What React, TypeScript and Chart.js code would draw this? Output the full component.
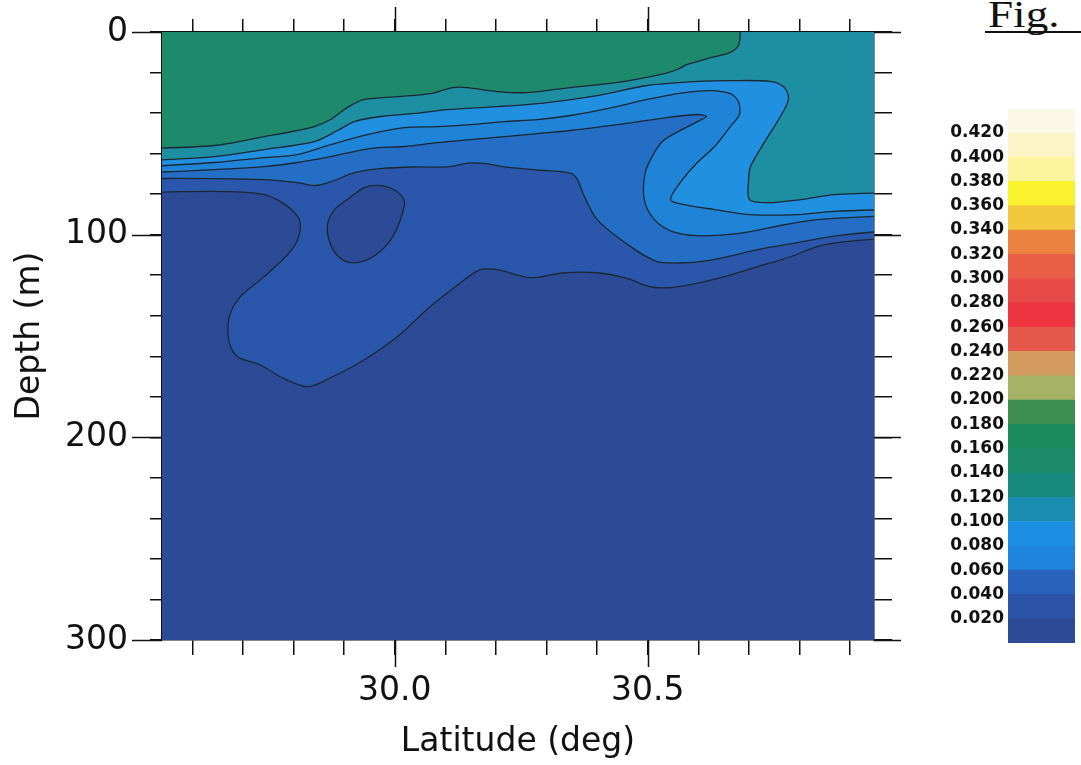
import React, { useEffect, useRef } from 'react';
import { Chart, registerables } from 'chart.js';

Chart.register(...registerables);

type Pt = [number, number];

// ---------- axes ----------
const LAT_MIN = 29.54;
const LAT_MAX = 30.947;
const DEPTH_MIN = 0;
const DEPTH_MAX = 300;

const latTicks = [29.6, 29.7, 29.8, 29.9, 30.0, 30.1, 30.2, 30.3, 30.4, 30.5, 30.6, 30.7, 30.8, 30.9];
const latLabelTicks = [30.0, 30.5];
const depthTicks = [0, 20, 40, 60, 80, 100, 120, 140, 160, 180, 200, 220, 240, 260, 280, 300];
const depthLabelTicks = [0, 100, 200, 300];

// ---------- contour lines (latitude deg, depth m) ----------
// green / teal boundary
const contourC1: Pt[] = [
  [29.5, 57.5], [29.643, 56.0], [29.742, 51.6], [29.808, 48.6], [29.841, 46.7], [29.873, 43.2],
  [29.906, 37.3], [29.94, 33.3], [30.005, 31.9], [30.07, 30.4], [30.114, 27.4], [30.143, 27.4],
  [30.203, 29.4], [30.262, 29.9], [30.347, 27.4], [30.44, 24.9], [30.533, 20.5], [30.558, 18.5],
  [30.578, 16.0], [30.618, 13.1], [30.663, 10.1], [30.679, 6.7], [30.683, 0], [30.684, -6],
];
// teal / light-blue boundary (wraps the "Z")
const contourC2: Pt[] = [
  [29.5, 63.5], [29.643, 61.5], [29.742, 58.0], [29.841, 54.1], [29.887, 48.6], [29.92, 44.2],
  [29.972, 41.7], [30.039, 40.2], [30.104, 38.3], [30.203, 36.8], [30.302, 34.8], [30.4, 31.4],
  [30.499, 26.4], [30.598, 24.4], [30.663, 24.0], [30.742, 24.4], [30.77, 27.4], [30.778, 33.3],
  [30.762, 41.7], [30.73, 54.6], [30.703, 66.4], [30.699, 73.8], [30.701, 82.7], [30.736, 84.2],
  [30.802, 82.7], [30.869, 80.2], [30.99, 79.3],
];
// light-blue / blue boundary
const contourC3: Pt[] = [
  [29.5, 66.4], [29.643, 64.4], [29.742, 62.0], [29.808, 60.5], [29.873, 55.6], [29.946, 50.6],
  [30.019, 47.2], [30.084, 46.7], [30.149, 45.7], [30.217, 44.2], [30.282, 43.2], [30.347, 41.2],
  [30.42, 37.8], [30.499, 33.3], [30.572, 29.9], [30.624, 28.9], [30.663, 30.4], [30.679, 34.3],
  [30.681, 40.7], [30.663, 46.7], [30.632, 56.5], [30.598, 64.4], [30.564, 74.3], [30.545, 82.7],
  [30.572, 85.2], [30.632, 87.6], [30.703, 90.1], [30.796, 90.1], [30.861, 88.6], [30.99, 87.6],
];
// blue / medium-blue boundary (tongue)
const contourC4: Pt[] = [
  [29.5, 69.4], [29.643, 67.9], [29.742, 66.4], [29.808, 64.4], [29.873, 61.5], [29.95, 57.5],
  [30.019, 56.5], [30.084, 54.6], [30.149, 53.1], [30.217, 51.6], [30.282, 50.1], [30.347, 48.6],
  [30.454, 45.2], [30.539, 42.2], [30.598, 40.7], [30.616, 41.7], [30.598, 44.2], [30.533, 53.1],
  [30.513, 59.5], [30.495, 69.4], [30.493, 82.7], [30.513, 92.6], [30.549, 98.5], [30.598, 100.5],
  [30.677, 99.5], [30.77, 95.1], [30.835, 92.6], [30.99, 90.6],
];
// medium-blue / dark-blue boundary
const contourC5: Pt[] = [
  [29.5, 72.3], [29.643, 72.3], [29.742, 72.8], [29.808, 74.3], [29.841, 75.8], [29.873, 74.0],
  [29.92, 69.4], [29.972, 67.4], [30.039, 66.6], [30.104, 66.6], [30.149, 64.6], [30.183, 65.1],
  [30.217, 66.6], [30.282, 68.1], [30.347, 69.6], [30.361, 72.8], [30.373, 80.2], [30.4, 92.6],
  [30.466, 105.9], [30.519, 113.3], [30.578, 113.8], [30.638, 111.9], [30.717, 107.4],
  [30.796, 103.9], [30.875, 100.5], [30.99, 98.0],
];
// dark-blue / deep boundary (the bulge)
const contourC6: Pt[] = [
  [29.5, 79.3], [29.576, 78.8], [29.675, 78.8], [29.742, 80.2], [29.774, 83.7], [29.802, 89.1],
  [29.813, 94.1], [29.808, 102.5], [29.788, 109.9], [29.742, 120.7], [29.695, 130.6],
  [29.673, 140.5], [29.673, 153.3], [29.689, 160.2], [29.734, 164.2], [29.774, 170.1],
  [29.827, 175.0], [29.873, 170.6], [29.94, 161.7], [30.005, 150.4], [30.07, 135.5],
  [30.138, 122.2], [30.169, 117.3], [30.203, 117.3], [30.268, 121.2], [30.335, 118.8],
  [30.4, 118.8], [30.454, 121.2], [30.505, 125.7], [30.539, 126.2], [30.584, 124.7],
  [30.651, 120.7], [30.717, 115.8], [30.782, 110.9], [30.849, 104.9], [30.99, 101.5],
];
// closed deep patch near 30.0
const contourBlob: Pt[] = [
  [29.906, 82.7], [29.94, 76.8], [29.972, 75.8], [30.005, 78.8], [30.019, 83.7], [30.011, 92.6],
  [29.995, 101.5], [29.975, 107.4], [29.946, 112.3], [29.912, 113.8], [29.887, 110.4],
  [29.871, 103.4], [29.867, 95.1], [29.881, 87.6], [29.906, 82.7],
];

// ---------- band colours ----------
const bandDeep = '#2d4a97';
const bandDark = '#2a57ab';
const bandMedium = '#246ec6';
const bandBlue = '#1f83d8';
const bandLight = '#2190e0';
const bandTeal = '#1e8fa2';
const bandGreen = '#1f8a6b';
const contourColor = '#1b2833';

// ---------- colour bar ----------
const colorbarBounds = [0, 0.02, 0.04, 0.06, 0.08, 0.1, 0.12, 0.14, 0.16, 0.18, 0.2, 0.22, 0.24, 0.26, 0.28, 0.3, 0.32, 0.34, 0.36, 0.38, 0.4, 0.42, 0.44];
const colorbarColors = [
  '#2d4a97', '#2b53a7', '#2862bc', '#1f84dc', '#1c8ee2', '#1a8cb0', '#178a80', '#1a8a68',
  '#1b8a5c', '#3d8c50', '#a6b266', '#d29a5c', '#e5574a', '#ef3441', '#e84a48', '#e95e44',
  '#ec8240', '#f2c83c', '#fbf22e', '#fbf49c', '#faf4c6', '#fbf8e6',
];
const colorbarLabels = ['0.020', '0.040', '0.060', '0.080', '0.100', '0.120', '0.140', '0.160', '0.180', '0.200', '0.220', '0.240', '0.260', '0.280', '0.300', '0.320', '0.340', '0.360', '0.380', '0.400', '0.420'];

const FONT = "'DejaVu Sans', 'Liberation Sans', sans-serif";
const OUT_LEFT = 29.4;
const OUT_RIGHT = 31.1;
const OUT_TOP = -30;
const OUT_BOTTOM = 330;

function aboveCurve(curve: Pt[], color: string, order: number) {
  const first = curve[0];
  const last = curve[curve.length - 1];
  const pts: Pt[] = [[OUT_LEFT, first[1]], ...curve, [OUT_RIGHT, last[1]], [OUT_RIGHT, OUT_TOP], [OUT_LEFT, OUT_TOP]];
  return {
    data: pts.map(([x, y]) => ({ x, y })),
    backgroundColor: color,
    borderColor: contourColor,
    borderWidth: 1.3,
    fill: 'shape',
    tension: 0.3,
    pointRadius: 0,
    order,
  };
}

const majorTickPlugin = {
  id: 'majorTicks',
  afterDraw(chart: any) {
    const { ctx, chartArea: a, scales } = chart;
    ctx.save();
    ctx.strokeStyle = '#111';
    ctx.lineWidth = 1.5;
    const line = (x1: number, y1: number, x2: number, y2: number) => {
      ctx.beginPath();
      ctx.moveTo(x1, y1);
      ctx.lineTo(x2, y2);
      ctx.stroke();
    };
    latLabelTicks.forEach((v) => {
      const px = Math.round(scales.x.getPixelForValue(v)) + 0.5;
      line(px, a.bottom, px, a.bottom + 27);
      line(px, a.top, px, a.top - 25);
    });
    depthLabelTicks.forEach((v) => {
      const py = Math.round(scales.y.getPixelForValue(v)) + 0.5;
      line(a.left - 30, py, a.left, py);
      line(a.right, py, a.right + 27, py);
    });
    ctx.restore();
  },
};

function noPad(s: any) {
  s.paddingTop = 0;
  s.paddingBottom = 0;
  s.paddingLeft = 0;
  s.paddingRight = 0;
}

function mainConfig(): any {
  const datasets: any[] = [
    {
      data: [
        { x: OUT_LEFT, y: OUT_TOP }, { x: OUT_RIGHT, y: OUT_TOP },
        { x: OUT_RIGHT, y: OUT_BOTTOM }, { x: OUT_LEFT, y: OUT_BOTTOM },
      ],
      backgroundColor: bandDeep,
      borderWidth: 0,
      fill: 'shape',
      tension: 0,
      pointRadius: 0,
      order: 10,
    },
    aboveCurve(contourC6, bandDark, 9),
    {
      data: contourBlob.map(([x, y]) => ({ x, y })),
      backgroundColor: bandDeep,
      borderColor: contourColor,
      borderWidth: 1.3,
      fill: 'shape',
      tension: 0.3,
      pointRadius: 0,
      order: 8,
    },
    aboveCurve(contourC5, bandMedium, 7),
    aboveCurve(contourC4, bandBlue, 6),
    aboveCurve(contourC3, bandLight, 5),
    aboveCurve(contourC2, bandTeal, 4),
    aboveCurve(contourC1, bandGreen, 3),
  ];
  const axisFont = { family: FONT, size: 33 };
  const lineCol = '#111';
  return {
    type: 'line',
    data: { datasets },
    options: {
      responsive: false,
      animation: false,
      devicePixelRatio: 1,
      events: [],
      layout: { padding: { left: 0, top: 0, right: 36, bottom: 0 } },
      elements: { point: { radius: 0 }, line: { capBezierPoints: false } },
      plugins: { legend: { display: false }, tooltip: { enabled: false } },
      scales: {
        x: {
          type: 'linear',
          position: 'bottom',
          min: LAT_MIN,
          max: LAT_MAX,
          afterBuildTicks: (s: any) => { s.ticks = latTicks.map((value) => ({ value })); },
          afterFit: (s: any) => { s.height = 125; noPad(s); },
          ticks: {
            autoSkip: false,
            maxRotation: 0,
            minRotation: 0,
            padding: 17,
            color: lineCol,
            font: axisFont,
            callback: (v: any) => (latLabelTicks.some((m) => Math.abs(m - v) < 1e-6) ? Number(v).toFixed(1) : ''),
          },
          grid: { drawOnChartArea: false, drawTicks: true, tickLength: 15, color: lineCol, lineWidth: 1.5 },
          border: { display: true, color: lineCol, width: 1.5 },
          title: { display: true, text: 'Latitude (deg)', color: lineCol, font: axisFont, padding: { top: 0, bottom: 3 } },
        },
        x2: {
          type: 'linear',
          position: 'top',
          min: LAT_MIN,
          max: LAT_MAX,
          afterBuildTicks: (s: any) => { s.ticks = latTicks.map((value) => ({ value })); },
          afterFit: (s: any) => { s.height = 32; noPad(s); },
          ticks: { display: false },
          grid: { drawOnChartArea: false, drawTicks: true, tickLength: 13, color: lineCol, lineWidth: 1.5 },
          border: { display: true, color: lineCol, width: 1.5 },
        },
        y: {
          type: 'linear',
          position: 'left',
          reverse: true,
          min: DEPTH_MIN,
          max: DEPTH_MAX,
          afterBuildTicks: (s: any) => { s.ticks = depthTicks.map((value) => ({ value })); },
          afterFit: (s: any) => { s.width = 162; noPad(s); },
          ticks: {
            autoSkip: false,
            padding: 22,
            color: lineCol,
            font: axisFont,
            callback: (v: any) => (depthLabelTicks.includes(Number(v)) ? String(v) : ''),
          },
          grid: { drawOnChartArea: false, drawTicks: true, tickLength: 12, color: lineCol, lineWidth: 1.5 },
          border: { display: true, color: lineCol, width: 1.5 },
          title: { display: true, text: 'Depth (m)', color: lineCol, font: axisFont, padding: { top: 11, bottom: 0 } },
        },
        y2: {
          type: 'linear',
          position: 'right',
          reverse: true,
          min: DEPTH_MIN,
          max: DEPTH_MAX,
          afterBuildTicks: (s: any) => { s.ticks = depthTicks.map((value) => ({ value })); },
          afterFit: (s: any) => { s.width = 30; noPad(s); },
          ticks: { display: false },
          grid: { drawOnChartArea: false, drawTicks: true, tickLength: 18, color: lineCol, lineWidth: 1.5 },
          border: { display: true, color: lineCol, width: 1.5 },
        },
      },
    },
    plugins: [majorTickPlugin],
  };
}

function barConfig(): any {
  const tickValues = colorbarLabels.map((s) => parseFloat(s));
  return {
    type: 'bar',
    data: {
      labels: [''],
      datasets: colorbarColors.map((c, i) => ({
        data: [colorbarBounds[i + 1] - colorbarBounds[i]],
        backgroundColor: c,
        borderWidth: 0,
        barPercentage: 1,
        categoryPercentage: 1,
      })),
    },
    options: {
      responsive: false,
      animation: false,
      devicePixelRatio: 1,
      events: [],
      layout: { padding: { left: 0, top: 13.5, right: 6, bottom: 17 } },
      plugins: { legend: { display: false }, tooltip: { enabled: false } },
      scales: {
        x: { stacked: true, display: false },
        y: {
          stacked: true,
          min: colorbarBounds[0],
          max: colorbarBounds[colorbarBounds.length - 1],
          afterBuildTicks: (s: any) => { s.ticks = tickValues.map((value) => ({ value })); },
          afterFit: (s: any) => { s.width = 78; noPad(s); },
          ticks: {
            autoSkip: false,
            padding: 4,
            color: '#111',
            font: { family: FONT, size: 17, weight: 'bold' },
            callback: (v: any) => Number(v).toFixed(3),
          },
          grid: { display: false, drawTicks: false },
          border: { display: false },
        },
      },
    },
  };
}

export default function App() {
  const mainRef = useRef<HTMLCanvasElement>(null);
  const barRef = useRef<HTMLCanvasElement>(null);

  useEffect(() => {
    const main = new Chart(mainRef.current as HTMLCanvasElement, mainConfig());
    const bar = new Chart(barRef.current as HTMLCanvasElement, barConfig());
    return () => {
      main.destroy();
      bar.destroy();
    };
  }, []);

  return (
    <div style={{ position: 'absolute', left: 0, top: 0, width: 1081, height: 765, background: '#fff', overflow: 'hidden' }}>
      <canvas ref={mainRef} width={940} height={765} style={{ position: 'absolute', left: 0, top: 0, width: 940, height: 765 }} />
      <canvas ref={barRef} width={151} height={565} style={{ position: 'absolute', left: 930, top: 95, width: 151, height: 565 }} />
      <div
        style={{
          position: 'absolute', left: 988, top: -4, fontFamily: "'Liberation Serif', 'DejaVu Serif', serif",
          fontSize: 37, lineHeight: '37px', color: '#111', transform: 'scaleX(1.22)', transformOrigin: 'left top',
          whiteSpace: 'nowrap',
        }}
      >
        Fig.
      </div>
      <div style={{ position: 'absolute', left: 985, top: 31, width: 96, height: 2, background: '#111' }} />
    </div>
  );
}
